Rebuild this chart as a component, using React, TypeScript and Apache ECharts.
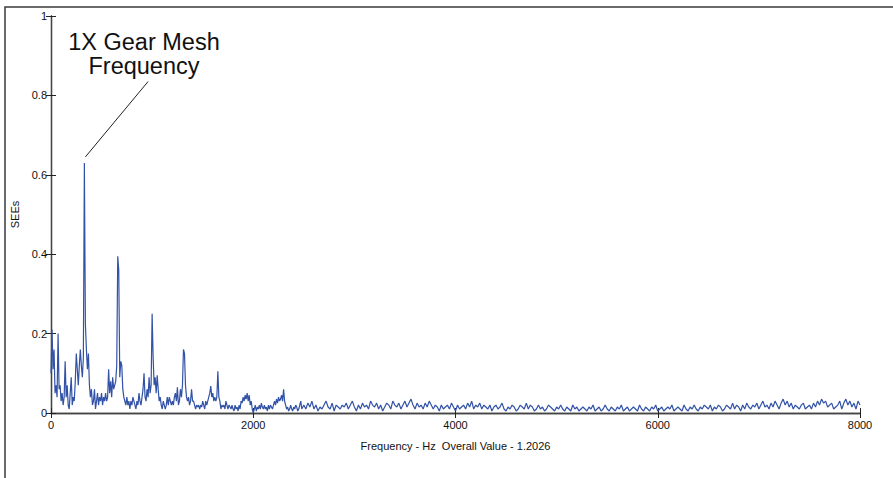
import React, { useEffect, useRef } from "react";
import * as echarts from "echarts";

// Spectrum 0–2490 Hz at 10 Hz steps
const lowStepHz = 10;
const lowBand = [
  0.10, 0.21, 0.11, 0.16, 0.05, 0.07, 0.04, 0.20, 0.06, 0.07,
  0.03, 0.05, 0.02, 0.04, 0.13, 0.04, 0.07, 0.02, 0.01, 0.05,
  0.09, 0.02, 0.04, 0.03, 0.08, 0.15, 0.11, 0.07, 0.12, 0.16,
  0.12, 0.09, 0.14, 0.63, 0.225, 0.16, 0.11, 0.15, 0.07, 0.04,
  0.06, 0.02, 0.03, 0.06, 0.01, 0.03, 0.05, 0.02, 0.04, 0.03,
  0.05, 0.02, 0.04, 0.03, 0.05, 0.03, 0.04, 0.11, 0.05, 0.08,
  0.04, 0.09, 0.06, 0.07, 0.08, 0.12, 0.395, 0.36, 0.09, 0.13,
  0.12, 0.06, 0.04, 0.03, 0.02, 0.04, 0.02, 0.03, 0.01, 0.03,
  0.02, 0.04, 0.03, 0.02, 0.01, 0.03, 0.02, 0.05, 0.03, 0.02,
  0.04, 0.06, 0.10, 0.04, 0.03, 0.06, 0.04, 0.09, 0.05, 0.07,
  0.25, 0.14, 0.07, 0.09, 0.05, 0.095, 0.06, 0.03, 0.04, 0.02,
  0.01, 0.03, 0.02, 0.01, 0.02, 0.04, 0.02, 0.04, 0.03, 0.02,
  0.03, 0.02, 0.04, 0.05, 0.03, 0.065, 0.02, 0.03, 0.06, 0.04,
  0.07, 0.16, 0.15, 0.07, 0.04, 0.03, 0.04, 0.02, 0.03, 0.06,
  0.03, 0.03, 0.02, 0.01, 0.02, 0.015, 0.02, 0.01, 0.02, 0.015,
  0.03, 0.02, 0.01, 0.03, 0.02, 0.03, 0.04, 0.05, 0.068, 0.04,
  0.05, 0.03, 0.04, 0.03, 0.04, 0.105, 0.04, 0.03, 0.01, 0.02,
  0.015, 0.02, 0.01, 0.03, 0.02, 0.01, 0.02, 0.015, 0.01, 0.02,
  0.01, 0.005, 0.02, 0.01, 0.015, 0.005, 0.02, 0.01, 0.03, 0.025,
  0.04, 0.03, 0.045, 0.035, 0.05, 0.03, 0.045, 0.02, 0.03, 0.01,
  0.0, 0.01, 0.02, 0.005, 0.015, 0.01, 0.02, 0.01, 0.025, 0.015,
  0.01, 0.02, 0.01, 0.015, 0.005, 0.02, 0.01, 0.02, 0.015, 0.01,
  0.02, 0.03, 0.02, 0.035, 0.025, 0.04, 0.03, 0.035, 0.045, 0.03,
  0.06, 0.03, 0.02, 0.01, 0.015, 0.005, 0.01, 0.02, 0.01, 0.005,
  0.015, 0.01, 0.02, 0.015, 0.005, 0.01, 0.02, 0.03, 0.01, 0.015,
];

// Spectrum 2500–8000 Hz at 20 Hz steps
const highStartHz = 2500;
const highStepHz = 20;
const highBand = [
  0.02, 0.01, 0.025, 0.015, 0.03, 0.01, 0.02, 0.005, 0.015, 0.01,
  0.02, 0.03, 0.015, 0.01, 0.025, 0.005, 0.02, 0.015, 0.01, 0.02,
  0.015, 0.025, 0.01, 0.02, 0.03, 0.015, 0.005, 0.02, 0.01, 0.025,
  0.015, 0.02, 0.01, 0.03, 0.02, 0.015, 0.025, 0.01, 0.02, 0.005,
  0.015, 0.025, 0.02, 0.01, 0.03, 0.02, 0.015, 0.025, 0.01, 0.02,
  0.03, 0.015, 0.025, 0.035, 0.02, 0.01, 0.025, 0.015, 0.02, 0.01,
  0.025, 0.015, 0.03, 0.02, 0.01, 0.02, 0.015, 0.005, 0.02, 0.01,
  0.015, 0.02, 0.01, 0.025, 0.015, 0.005, 0.02, 0.01, 0.015, 0.02,
  0.01, 0.025, 0.015, 0.03, 0.01, 0.02, 0.015, 0.025, 0.01, 0.02,
  0.015, 0.01, 0.02, 0.005, 0.015, 0.02, 0.01, 0.015, 0.025, 0.01,
  0.005, 0.015, 0.01, 0.02, 0.015, 0.005, 0.01, 0.02, 0.015, 0.01,
  0.025, 0.01, 0.02, 0.015, 0.005, 0.01, 0.02, 0.01, 0.015, 0.005,
  0.01, 0.02, 0.015, 0.01, 0.005, 0.015, 0.01, 0.02, 0.01, 0.005,
  0.015, 0.01, 0.005, 0.02, 0.01, 0.015, 0.005, 0.01, 0.015, 0.01,
  0.005, 0.015, 0.01, 0.02, 0.005, 0.01, 0.015, 0.005, 0.01, 0.02,
  0.01, 0.005, 0.015, 0.01, 0.005, 0.015, 0.01, 0.02, 0.005, 0.01,
  0.015, 0.005, 0.01, 0.015, 0.01, 0.005, 0.02, 0.01, 0.005, 0.015,
  0.01, 0.005, 0.015, 0.01, 0.02, 0.005, 0.01, 0.015, 0.005, 0.01,
  0.015, 0.01, 0.02, 0.005, 0.01, 0.015, 0.01, 0.005, 0.02, 0.01,
  0.005, 0.015, 0.01, 0.02, 0.01, 0.005, 0.015, 0.01, 0.02, 0.015,
  0.01, 0.02, 0.005, 0.015, 0.01, 0.02, 0.015, 0.005, 0.01, 0.02,
  0.015, 0.01, 0.025, 0.01, 0.02, 0.015, 0.005, 0.02, 0.01, 0.025,
  0.015, 0.01, 0.02, 0.015, 0.025, 0.01, 0.02, 0.03, 0.015, 0.02,
  0.01, 0.025, 0.015, 0.03, 0.02, 0.01, 0.025, 0.035, 0.02, 0.03,
  0.015, 0.025, 0.01, 0.02, 0.015, 0.01, 0.02, 0.025, 0.01, 0.015,
  0.02, 0.01, 0.025, 0.015, 0.03, 0.02, 0.035, 0.025, 0.03, 0.015,
  0.02, 0.025, 0.01, 0.015, 0.02, 0.03, 0.01, 0.025, 0.035, 0.02,
  0.03, 0.015, 0.025, 0.01, 0.03, 0.02,
];

const xTicks = [0, 2000, 4000, 6000, 8000];
const yTicks = [0, 0.2, 0.4, 0.6, 0.8, 1];
const annotationLines = ["1X Gear Mesh", "Frequency"];
const annotationFrom = [340, 0.645];
const annotationTo = [960, 0.835];
const xTitle = "Frequency - Hz  Overall Value - 1.2026";
const yTitle = "SEEs";

const FONT = "'Liberation Sans', Arial, sans-serif";

export default function App() {
  const ref = useRef<HTMLDivElement>(null);

  useEffect(() => {
    document.body.style.margin = "0";
    if (!ref.current) return;
    const chart = echarts.init(ref.current, undefined, { renderer: "svg" });

    const data: [number, number][] = [];
    lowBand.forEach((v, i) => data.push([i * lowStepHz, v]));
    highBand.forEach((v, i) => data.push([highStartHz + i * highStepHz, v]));

    const axisCommon = {
      type: "value" as const,
      axisLine: { show: true, lineStyle: { color: "#444", width: 1.3 } },
      axisTick: { show: true, inside: true, length: 5, lineStyle: { color: "#222", width: 1 } },
      splitLine: { show: false },
    };

    chart.setOption({
      animation: false,
      backgroundColor: "#ffffff",
      grid: { left: 51, right: 33, top: 16, bottom: 65, containLabel: false },
      xAxis: [
        {
          ...axisCommon,
          position: "bottom",
          min: xTicks[0],
          max: xTicks[xTicks.length - 1],
          interval: xTicks[1] - xTicks[0],
          axisLabel: {
            color: "#111",
            fontSize: 11,
            fontFamily: FONT,
            margin: 6,
            formatter: (v: number) => String(v),
          },
          name: xTitle,
          nameLocation: "middle",
          nameGap: 27,
          nameTextStyle: { color: "#111", fontSize: 11, fontFamily: FONT },
        },
        {
          ...axisCommon,
          position: "top",
          min: xTicks[0],
          max: xTicks[xTicks.length - 1],
          interval: xTicks[1] - xTicks[0],
          axisLabel: { show: false },
        },
      ],
      yAxis: [
        {
          ...axisCommon,
          position: "left",
          min: yTicks[0],
          max: yTicks[yTicks.length - 1],
          interval: yTicks[1] - yTicks[0],
          axisLabel: {
            color: "#111",
            fontSize: 11,
            fontFamily: FONT,
            margin: 4,
            formatter: (v: number) => String(Math.round(v * 10) / 10),
          },
          name: yTitle,
          nameLocation: "middle",
          nameGap: 23,
          nameTextStyle: { color: "#111", fontSize: 11, fontFamily: FONT },
        },
        {
          ...axisCommon,
          position: "right",
          min: yTicks[0],
          max: yTicks[yTicks.length - 1],
          interval: yTicks[1] - yTicks[0],
          axisLabel: { show: false },
        },
      ],
      series: [
        {
          type: "line",
          data,
          showSymbol: false,
          symbol: "none",
          lineStyle: { color: "#3152a6", width: 1.2 },
          xAxisIndex: 0,
          yAxisIndex: 0,
          markLine: {
            silent: true,
            symbol: ["none", "none"],
            label: { show: false },
            lineStyle: { color: "#222", width: 1, type: "solid" },
            data: [[{ coord: annotationFrom }, { coord: annotationTo }]],
          },
        },
      ],
      graphic: [
        {
          type: "polyline",
          shape: { points: [[5, 478], [5, 7], [893, 7]] },
          style: { stroke: "#3a3a3a", lineWidth: 1.5, fill: "none" },
          silent: true,
        },
        {
          type: "text",
          x: 144,
          y: 42,
          style: {
            text: annotationLines[0],
            fontSize: 23.5,
            fontFamily: FONT,
            fill: "#111",
            align: "center",
            verticalAlign: "middle",
          },
        },
        {
          type: "text",
          x: 144,
          y: 66,
          style: {
            text: annotationLines[1],
            fontSize: 23.5,
            fontFamily: FONT,
            fill: "#111",
            align: "center",
            verticalAlign: "middle",
          },
        },
      ],
    });

    return () => chart.dispose();
  }, []);

  return <div ref={ref} style={{ width: 893, height: 478 }} />;
}
